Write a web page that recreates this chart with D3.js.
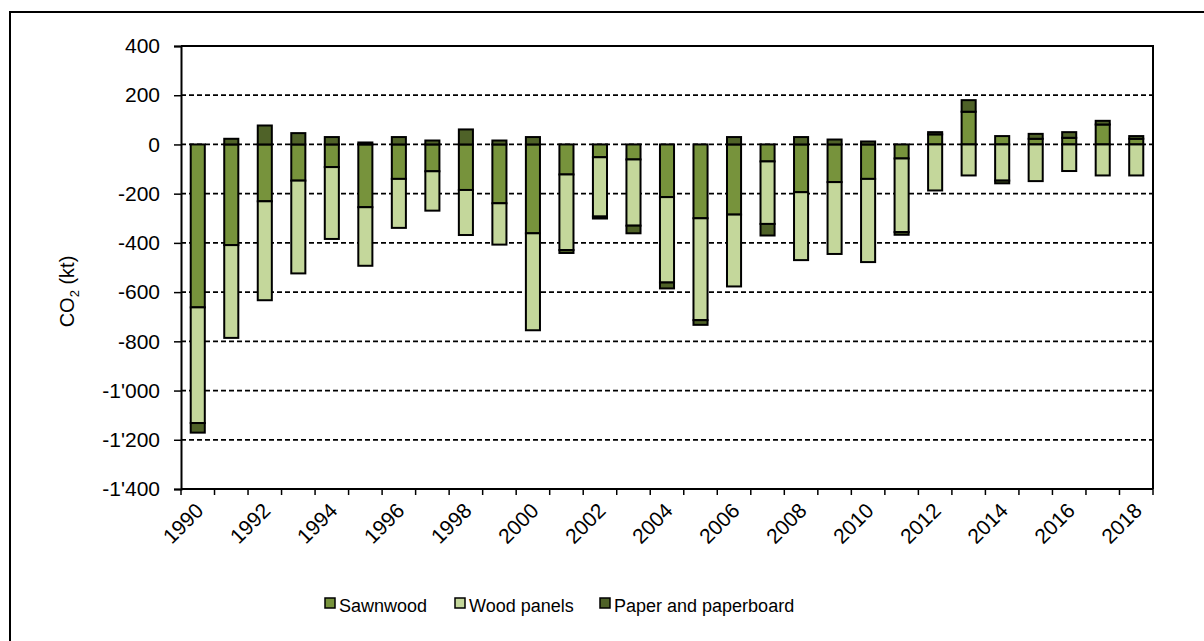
<!DOCTYPE html>
<html>
<head>
<meta charset="utf-8">
<script src="https://cdn.jsdelivr.net/npm/d3@7"></script>
<style>
  body { margin: 0; background: #fff; }
  svg { display: block; font-family: "Liberation Sans", Arial, sans-serif; }
</style>
</head>
<body>
<div id="chart"></div>
<script>
// chart values (kt CO2)
const years = d3.range(1990, 2019);
const sawnwood = [-662, -409, -231, -147, -92, -255, -140, -109, -185, -239,
  -361, -122, -52, -61, -214, -300, -285, -69, -194, -153,
  -140, -57, 41, 133, 34, 23, 27, 81, 23];
const woodPanels = [-470, -377, -402, -377, -292, -238, -199, -160, -183, -168,
  -394, -307, -241, -269, -347, -414, -292, -254, -276, -292,
  -338, -299, -187, -126, -147, -149, -108, -126, -126];
const paper = [-39, 23, 77, 46, 30, 8, 30, 16, 61, 16,
  30, -12, -8, -31, -24, -19, 30, -47, 30, 20,
  12, -11, 9, 47, -11, 20, 23, 15, 11];
const seriesNames = ["Sawnwood", "Wood panels", "Paper and paperboard"];
const yTicks = d3.range(-1400, 401, 200);

const colors = {
  "Sawnwood": "#77933c",
  "Wood panels": "#c4d79b",
  "Paper and paperboard": "#4f6228"
};

const width = 1204, height = 641;
const margin = { left: 181, right: 1153, top: 46, bottom: 489 };

const rows = years.map((yr, i) => ({
  year: yr,
  "Sawnwood": sawnwood[i],
  "Wood panels": woodPanels[i],
  "Paper and paperboard": paper[i]
}));

// Excel-style stacking: positives go up, negatives go down, same series order
const stacked = d3.stack()
  .keys(seriesNames)
  .offset(d3.stackOffsetDiverging)(rows);

const svg = d3.select("#chart").append("svg")
  .attr("width", width)
  .attr("height", height);

// outer frame (only left and top edges fall inside the picture)
svg.append("path")
  .attr("d", `M10,${height + 5}V12H${width + 5}`)
  .attr("fill", "none")
  .attr("stroke", "#000")
  .attr("stroke-width", 2);

const x = d3.scaleBand()
  .domain(years)
  .range([margin.left, margin.right])
  .paddingInner(0.58)
  .paddingOuter(0.29);

const y = d3.scaleLinear()
  .domain([-1400, 400])
  .range([margin.bottom, margin.top]);

// dashed gridlines
svg.append("g")
  .selectAll("line")
  .data(yTicks.filter(v => v > -1400 && v < 400))
  .join("line")
  .attr("x1", margin.left)
  .attr("x2", margin.right)
  .attr("y1", d => y(d))
  .attr("y2", d => y(d))
  .attr("stroke", "#000")
  .attr("stroke-width", 1.8)
  .attr("stroke-dasharray", "5,3");

// plot frame top / right
svg.append("path")
  .attr("d", `M${margin.left},${margin.top}H${margin.right}V${margin.bottom}`)
  .attr("fill", "none")
  .attr("stroke", "#000")
  .attr("stroke-width", 2);

// bars
svg.append("g")
  .selectAll("g")
  .data(stacked)
  .join("g")
  .attr("fill", d => colors[d.key])
  .selectAll("rect")
  .data(d => d)
  .join("rect")
  .attr("x", d => x(d.data.year))
  .attr("width", x.bandwidth())
  .attr("y", d => y(Math.max(d[0], d[1])))
  .attr("height", d => Math.abs(y(d[0]) - y(d[1])))
  .attr("stroke", "#000")
  .attr("stroke-width", 2);

// y axis
const fmt = v => d3.format(",")(v).replace(/,/g, "'").replace("−", "-");
const yAxis = svg.append("g")
  .attr("transform", `translate(${margin.left},0)`)
  .call(d3.axisLeft(y).tickValues(yTicks).tickSize(7).tickPadding(14).tickFormat(fmt));
yAxis.select(".domain").attr("stroke-width", 2);
yAxis.selectAll(".tick line").attr("stroke-width", 1.5);
yAxis.selectAll("text").attr("font-size", 21).attr("fill", "#000")
  .attr("font-family", "Liberation Sans, Arial, sans-serif");

// x axis: ticks on category boundaries
const step = x.step();
const xg = svg.append("g");
xg.append("line")
  .attr("x1", margin.left).attr("x2", margin.right)
  .attr("y1", margin.bottom).attr("y2", margin.bottom)
  .attr("stroke", "#000").attr("stroke-width", 2);
xg.selectAll("line.tick")
  .data(d3.range(years.length + 1))
  .join("line")
  .attr("class", "tick")
  .attr("x1", i => margin.left + i * step)
  .attr("x2", i => margin.left + i * step)
  .attr("y1", margin.bottom)
  .attr("y2", margin.bottom + 6)
  .attr("stroke", "#000").attr("stroke-width", 1.5);
xg.selectAll("text")
  .data(years.filter(yr => yr % 2 === 0))
  .join("text")
  .attr("transform", yr => `translate(${x(yr) + x.bandwidth() / 2 + 7},512) rotate(-45)`)
  .attr("text-anchor", "end")
  .attr("font-size", 21)
  .text(yr => yr);

// y title
const yt = svg.append("text")
  .attr("transform", `translate(74,${(margin.top + margin.bottom) / 2 + 24}) rotate(-90)`)
  .attr("text-anchor", "middle")
  .attr("font-size", 20);
yt.append("tspan").text("CO");
yt.append("tspan").attr("font-size", 13).attr("dy", 5).text("2");
yt.append("tspan").attr("dy", -5).text(" (kt)");

// legend
const legendX = [325, 455, 600];
const lg = svg.append("g")
  .selectAll("g")
  .data(seriesNames)
  .join("g")
  .attr("transform", (d, i) => `translate(${legendX[i]},598)`);
lg.append("rect")
  .attr("width", 10).attr("height", 10)
  .attr("fill", d => colors[d])
  .attr("stroke", "#000").attr("stroke-width", 1.5);
lg.append("text")
  .attr("x", 14).attr("y", 14)
  .attr("font-size", 18)
  .text(d => d);
</script>
</body>
</html>
